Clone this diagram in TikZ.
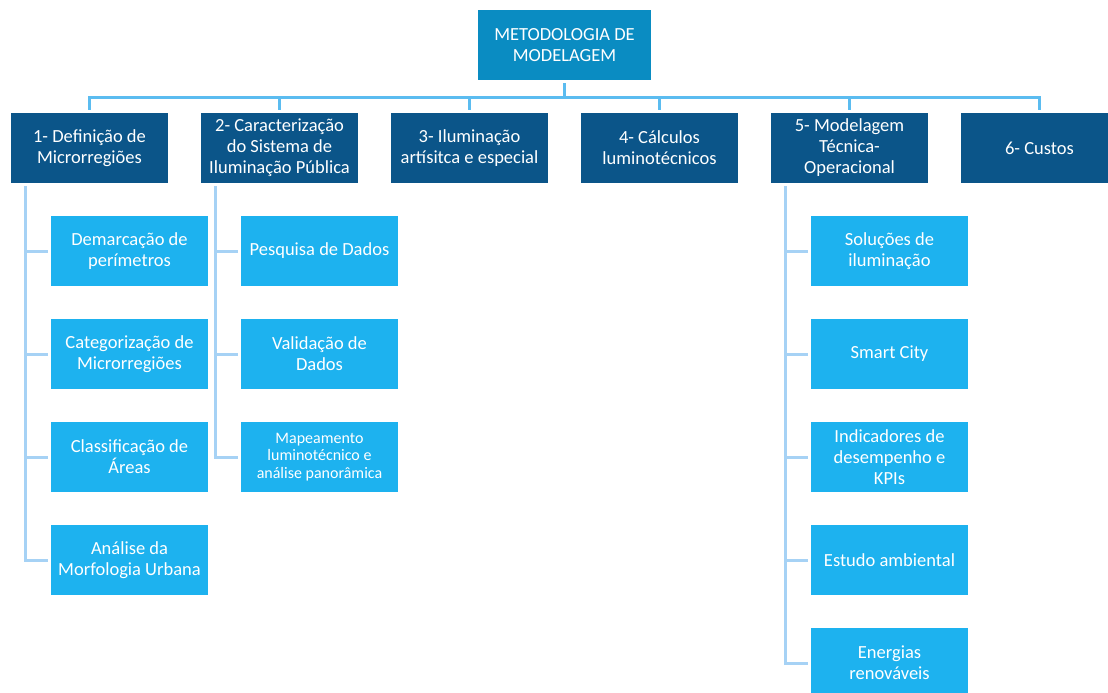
\documentclass[tikz,border=0pt]{standalone}
\usepackage{fontspec}
\setmainfont{Carlito}
\definecolor{topc}{HTML}{0A8CC2}
\definecolor{lonec}{HTML}{0B5589}
\definecolor{subc}{HTML}{1DB2EF}
\definecolor{busc}{HTML}{5BBCF0}
\definecolor{linec}{HTML}{A6D2F5}
\tikzset{
  box/.style={rectangle, inner sep=0pt, text=white, align=center,
    minimum width=157pt, minimum height=70pt,
    font=\fontsize{18.5}{21}\selectfont},
  topbox/.style={box, fill=topc, minimum width=173pt},
  lonebox/.style={box, fill=lonec},
  subbox/.style={box, fill=subc},
  smallsub/.style={subbox, font=\fontsize{16}{17.5}\selectfont},
  bus/.style={draw=busc, line width=3pt},
  subline/.style={draw=linec, line width=3pt}
}
\begin{document}
\begin{tikzpicture}[x=1pt,y=-1pt]
\clip (0,0) rectangle (1108,693);
\fill[white] (0,0) rectangle (1108,693);

\node[topbox] (top) at (564.5,45) {METODOLOGIA DE\\MODELAGEM};

\node[lonebox] (d1) at (89.5,148) {1- Definição de\\Microrregiões};
\node[lonebox] (d2) at (279.5,148) {2- Caracterização\\do Sistema de\\Iluminação Pública};
\node[lonebox] (d3) at (469.5,148) {3- Iluminação\\artísitca e especial};
\node[lonebox] (d4) at (659.5,148) {4- Cálculos\\luminotécnicos};
\node[lonebox] (d5) at (849.5,148) {5- Modelagem\\Técnica-\\Operacional};
\node[lonebox] (d6) at (1039.5,148) {6- Custos};

\node[subbox] (s11) at (129.5,251) {Demarcação de\\perímetros};
\node[subbox] (s12) at (129.5,354) {Categorização de\\Microrregiões};
\node[subbox] (s13) at (129.5,457) {Classificação de\\Áreas};
\node[subbox] (s14) at (129.5,560) {Análise da\\Morfologia Urbana};

\node[subbox] (s21) at (319.5,251) {Pesquisa de Dados};
\node[subbox] (s22) at (319.5,354) {Validação de\\Dados};
\node[smallsub] (s23) at (319.5,457) {Mapeamento\\luminotécnico e\\análise panorâmica};

\node[subbox] (s51) at (889.5,251) {Soluções de\\iluminação};
\node[subbox] (s52) at (889.5,354) {Smart City};
\node[subbox] (s53) at (889.5,457) {Indicadores de\\desempenho e\\KPIs};
\node[subbox] (s54) at (889.5,560) {Estudo ambiental};
\node[subbox] (s55) at (889.5,663) {Energias\\renováveis};

\foreach \n in {d1,d2,d3,d4,d5,d6}
  \draw[bus] ([yshift=-3pt]top.south) -- ++(0,14) -| ([yshift=3pt]\n.north);

\foreach \n in {s11,s12,s13,s14}
  \draw[subline] ([xshift=15pt,yshift=-3pt]d1.south west) |- ([xshift=-3pt]\n.west);
\foreach \n in {s21,s22,s23}
  \draw[subline] ([xshift=15pt,yshift=-3pt]d2.south west) |- ([xshift=-3pt]\n.west);
\foreach \n in {s51,s52,s53,s54,s55}
  \draw[subline] ([xshift=15pt,yshift=-3pt]d5.south west) |- ([xshift=-3pt]\n.west);
\end{tikzpicture}
\end{document}
